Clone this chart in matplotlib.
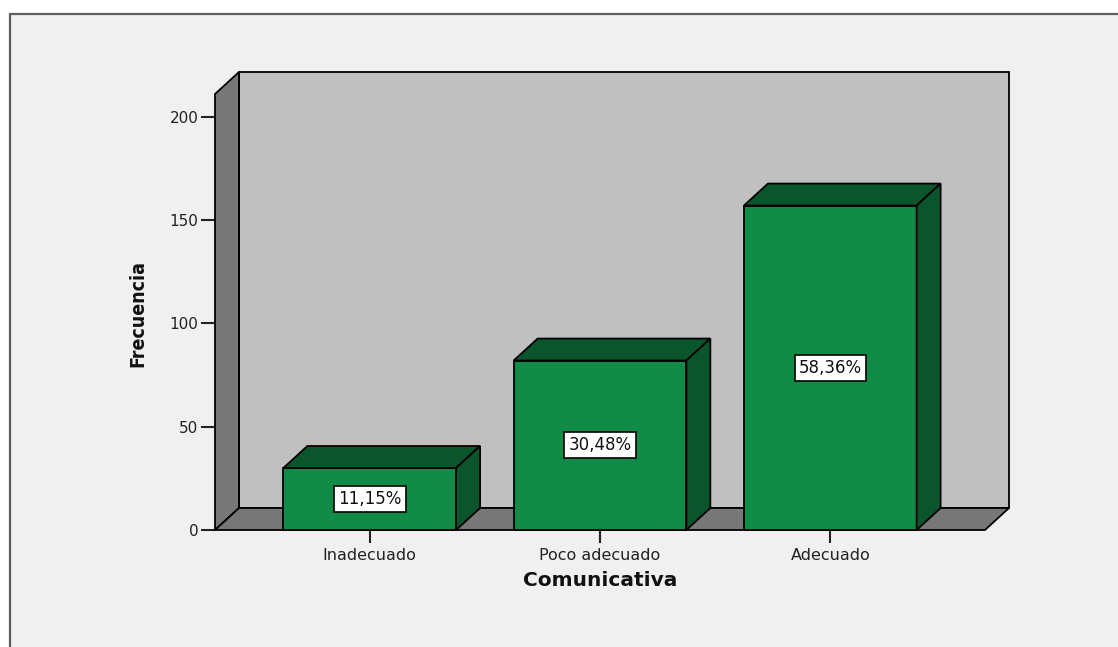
import matplotlib
matplotlib.use("Agg")
import matplotlib.pyplot as plt
from matplotlib.patches import Polygon, Rectangle

categorias = ["Inadecuado", "Poco adecuado", "Adecuado"]
frecuencias = [30, 82, 157]
porcentajes = ["11,15%", "30,48%", "58,36%"]
yticks = [0, 50, 100, 150, 200]

W, H = 1118, 647
fig = plt.figure(figsize=(W / 100, H / 100), dpi=100, facecolor="white")

# marco gris del visor
fig.add_artist(Rectangle((9.5 / W, -0.1), 1.2, (H - 13.5) / H + 0.1,
                         transform=fig.transFigure, facecolor="#f0f0f0",
                         edgecolor="#5e5e5e", linewidth=1.6, zorder=0))

# area del grafico (plano frontal)
left, right, bottom, top = 215, 985, 530, 94
ax = fig.add_axes([left / W, (H - bottom) / H, (right - left) / W, (bottom - top) / H])
x0, x1 = -0.672, 2.672
ytop = 211
ax.set_xlim(x0, x1)
ax.set_ylim(0, ytop)
ax.patch.set_visible(False)
for s in ax.spines.values():
    s.set_visible(False)

# profundidad 3D en pixeles -> datos
dx = 24 / ((right - left) / (x1 - x0))
dy = 22 / ((bottom - top) / ytop)

gris_claro = "#c0c0c0"
gris_osc = "#777777"
verde = "#108b48"
verde_osc = "#0a552b"
lw = 1.3

def poly(pts, color, z):
    ax.add_patch(Polygon(pts, closed=True, facecolor=color, edgecolor="black",
                         linewidth=lw, joinstyle="miter", clip_on=False, zorder=z))

# pared de fondo, pared izquierda y suelo
poly([(x0 + dx, dy), (x1 + dx, dy), (x1 + dx, ytop + dy), (x0 + dx, ytop + dy)], gris_claro, 1)
poly([(x0, 0), (x0, ytop), (x0 + dx, ytop + dy), (x0 + dx, dy)], gris_osc, 2)
poly([(x0, 0), (x1, 0), (x1 + dx, dy), (x0 + dx, dy)], gris_osc, 2)

ancho = 0.75
for i, (v, p) in enumerate(zip(frecuencias, porcentajes)):
    l, r = i - ancho / 2, i + ancho / 2
    poly([(l, 0), (r, 0), (r, v), (l, v)], verde, 3)
    poly([(l, v), (r, v), (r + dx, v + dy), (l + dx, v + dy)], verde_osc, 3)
    poly([(r, 0), (r + dx, dy), (r + dx, v + dy), (r, v)], verde_osc, 3)
    ax.text(i, v / 2, p, ha="center", va="center", fontsize=12, zorder=5,
            color="#111111",
            bbox=dict(boxstyle="square,pad=0.25", facecolor="white",
                      edgecolor="black", linewidth=1.2))

ax.set_yticks(yticks)
ax.set_xticks(range(len(categorias)))
ax.set_xticklabels(categorias)
ax.tick_params(axis="y", length=10, width=1.5, pad=2, labelsize=11, colors="#222222")
ax.tick_params(axis="x", length=9, width=1.5, pad=4, labelsize=11.5, colors="#222222")

fig.text(600 / W, 1 - 581 / H, "Comunicativa", ha="center", va="center",
         fontsize=14.5, fontweight="bold", color="#111111")
fig.text(138 / W, 1 - 313 / H, "Frecuencia", ha="center", va="center", rotation=90,
         fontsize=14, fontweight="bold", fontstretch="condensed", color="#111111",
         family="DejaVu Sans")

fig.savefig("out.png", dpi=100, facecolor="white")
